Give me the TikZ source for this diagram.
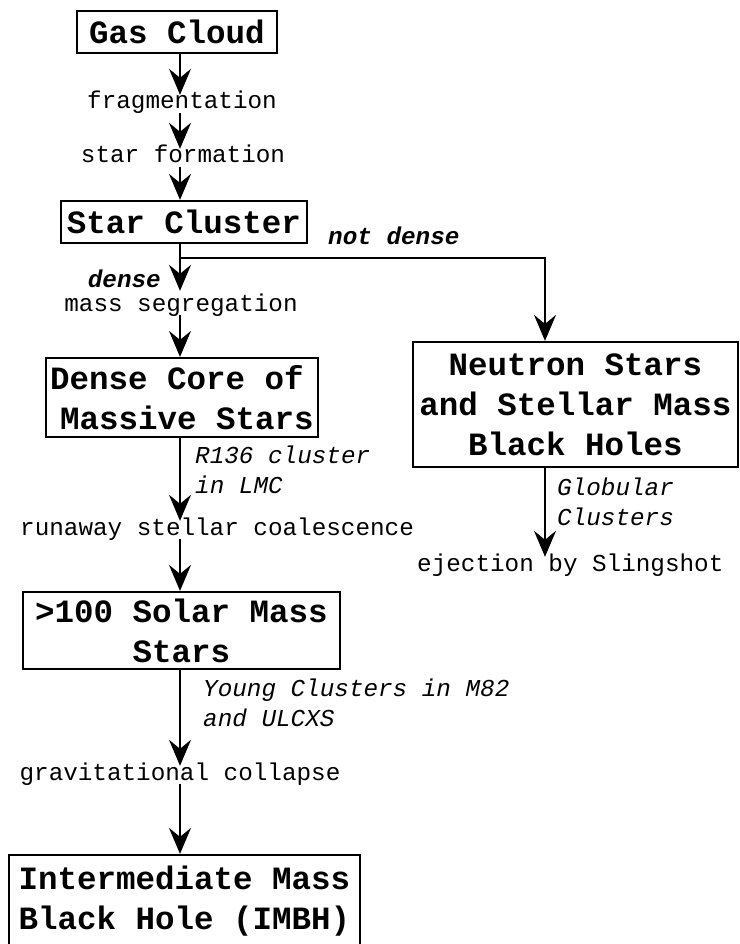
\documentclass[tikz,border=0pt]{standalone}
\usepackage{fontspec}
\newfontfamily\courfont{Liberation Mono}
\usetikzlibrary{arrows.meta}

\begin{document}
\begin{tikzpicture}[x=1pt, y=-1pt, >={Stealth[length=26pt,width=22pt,inset=9pt]},
  stage/.style={draw, line width=2.2pt, inner sep=0pt, align=center,
    font=\courfont\bfseries\fontsize{32.5}{40}\selectfont},
  proc/.style={inner sep=0pt, text height=14pt, text depth=4pt,
    font=\courfont\fontsize{24.3}{30}\selectfont},
  cond/.style={proc, font=\courfont\bfseries\itshape\fontsize{24.3}{30}\selectfont},
  note/.style={inner sep=0pt, align=left, anchor=west,
    font=\courfont\itshape\fontsize{24.3}{30}\selectfont},
  flow/.style={->, line width=2pt}]
  \useasboundingbox (0,0) rectangle (739,944);
  \clip (0,0) rectangle (739,944);

  \coordinate (spine) at (180,0);
  \coordinate (fork) at (180,258);
  \coordinate (bend) at (545,258);

  \node[stage, minimum width=200, minimum height=42] (gas) at (177,32) {Gas Cloud};
  \node[proc] (frag) at (182,104) {fragmentation};
  \node[proc] (form) at (183,158) {star formation};
  \node[stage, minimum width=246, minimum height=42] (star) at (184,222) {Star Cluster};
  \node[cond, anchor=west] (notd) at (328,239) {not dense};
  \node[cond, anchor=east] (dns) at (161,282) {dense};
  \node[proc] (seg) at (181,306) {mass segregation};
  \node[stage, align=left, minimum width=272, minimum height=79] (core) at (182,397.5)
    {Dense Core of\\\hspace*{10pt}Massive Stars};
  \node[stage, minimum width=325, minimum height=125] (ns) at (575.5,404.5)
    {Neutron Stars\\and Stellar Mass\\Black Holes};
  \node[note] (r136) at (195,470) {R136 cluster\\in LMC};
  \node[note] (glob) at (557,502) {Globular\\Clusters};
  \node[proc, anchor=west] (coal) at (20,530) {runaway stellar coalescence};
  \node[proc, anchor=west] (eject) at (417,566) {ejection by Slingshot};
  \node[stage, minimum width=317, minimum height=77] (solar) at (181.5,630.5)
    {>100 Solar Mass\\Stars};
  \node[note] (young) at (203,703) {Young Clusters in M82\\and ULCXS};
  \node[proc] (grav) at (180,775) {gravitational collapse};
  \node[stage, minimum width=351, minimum height=92] (imbh) at (184.5,901)
    {Intermediate Mass\\Black Hole (IMBH)};

  \draw[flow] (spine |- gas.south) -- (spine |- frag.north);
  \draw[flow] (spine |- frag.south) -- (spine |- form.north);
  \draw[flow] (spine |- form.south) -- (spine |- star.north);
  \draw[flow, shorten >=6pt] (spine |- star.south) -- (spine |- seg.north);
  \draw[flow] (fork) -- (bend) -- (bend |- ns.north);
  \draw[flow] (spine |- seg.south) -- (spine |- core.north);
  \draw[flow] (spine |- core.south) -- (spine |- coal.north);
  \draw[flow] (spine |- coal.south) -- (spine |- solar.north);
  \draw[flow] (spine |- solar.south) -- (spine |- grav.north);
  \draw[flow] (spine |- grav.south) -- (spine |- imbh.north);
  \draw[flow] (bend |- ns.south) -- (bend |- eject.north);
\end{tikzpicture}
\end{document}
